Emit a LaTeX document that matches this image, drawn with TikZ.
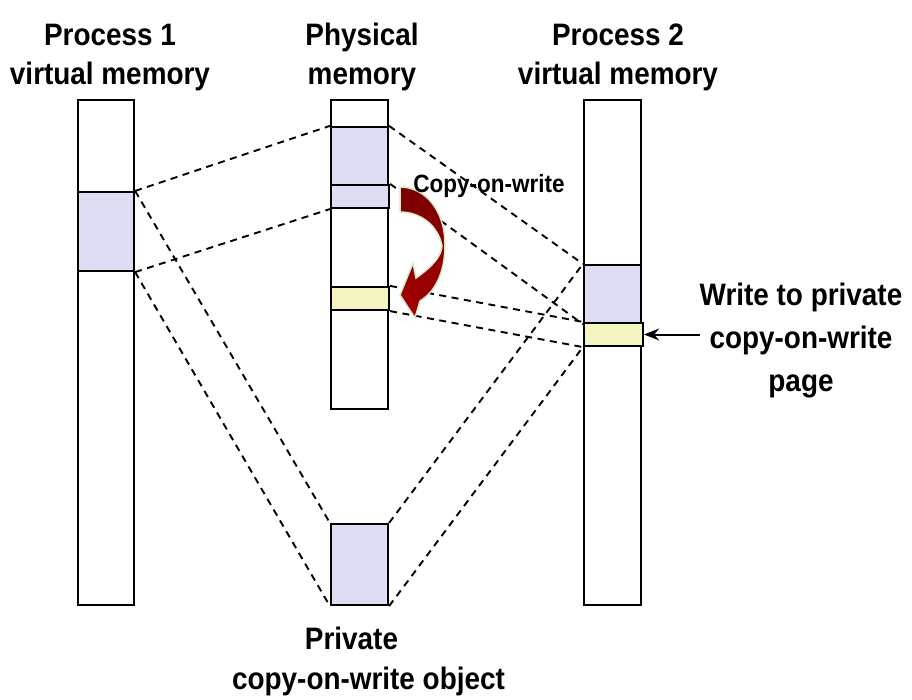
\documentclass[tikz,border=0pt]{standalone}
\usepackage{fontspec}
\setmainfont{Liberation Sans}[FakeStretch=0.9]
\usetikzlibrary{arrows.meta}
\definecolor{pagebl}{RGB}{221,222,244}
\definecolor{pageyl}{RGB}{245,245,196}
\definecolor{cowedge}{RGB}{214,236,204}

\begin{document}
\begin{tikzpicture}[x=1pt, y=-1pt,
    col/.style={draw, line width=2.2pt, minimum width=57pt, inner sep=0pt},
    map/.style={line width=1.9pt, dash pattern=on 7pt off 5.5pt},
    ttl/.style={font=\bfseries\fontsize{31}{39}\selectfont, align=center, inner sep=0pt, anchor=north}]
    \useasboundingbox (0,0) rectangle (912,699);
    % columns and pages
    \node[col, minimum width=56pt, minimum height=505pt] (p1) at (106,352.5) {};
    \node[col, minimum width=56pt, minimum height=79pt, fill=pagebl] (p1b) at (106,231.5) {};
    \node[col, minimum height=309pt] (ph) at (359.5,254.5) {};
    \node[col, minimum height=58pt, fill=pagebl] (pha) at (359.5,156) {};
    \node[col, minimum width=58pt, minimum height=23pt, fill=pagebl] (phb) at (360,196.5) {};
    \node[col, minimum width=58pt, minimum height=23pt, fill=pageyl] (phy) at (360,298.5) {};
    \node[col, minimum height=81pt, fill=pagebl] (pv) at (359.5,564.5) {};
    \node[col, minimum height=505pt] (p2) at (612.5,352.5) {};
    \node[col, minimum height=58pt, fill=pagebl] (p2b) at (612.5,294) {};
    \node[col, minimum width=59pt, minimum height=23pt, fill=pageyl] (p2y) at (613.5,334.5) {};
    % mappings
    \foreach \a/\b in {p1b.north east/pha.north west, p1b.south east/phb.south west,
        p1b.north east/pv.north west, p1b.south east/pv.south west,
        pha.north east/p2b.north west, phb.north east/p2b.south west,
        phy.north east/p2y.north west, phy.south east/p2y.south west,
        pv.north east/p2b.north west, pv.south east/p2y.south west}
      \draw[map] (\a) -- (\b);
    % titles
    \node[ttl] (t1) at (110,24) {Process 1\\virtual memory};
    \node[ttl] (tp) at (362,22.5) {Physical\\memory};
    \node[ttl] (t2) at (618,24) {Process 2\\virtual memory};
    \node[ttl, font=\bfseries\fontsize{31}{40}\selectfont] (tv) at (368.5,627) {Private\hspace*{34pt}\\copy-on-write object};
    \node[ttl, font=\bfseries\fontsize{31}{43}\selectfont] (tw) at (801,283) {Write to private\\copy-on-write\\page};
    \coordinate (wfrom) at (700,334.5);
    \draw[line width=2pt, -{Stealth[length=15pt, width=12pt]}] (wfrom) -- (p2y.east);
    % copy-on-write arrow
    \draw[draw=cowedge, line width=1.5pt, top color=red!48!black, bottom color=red!64!black]
      (400,187) .. controls (425,187) and (445,210) .. (445,245)
      .. controls (445,268) and (438,290) .. (420,301) -- (415,318) -- (400,295)
      -- (413,263) -- (416,278) .. controls (430,268) and (441,258) .. (442,246)
      .. controls (438,225) and (420,212) .. (400,212) -- cycle;
    \node[font=\bfseries\fontsize{25}{30}\selectfont, inner sep=0pt, anchor=base] (cw) at (489,192.5) {Copy-on-write};
\end{tikzpicture}
\end{document}
